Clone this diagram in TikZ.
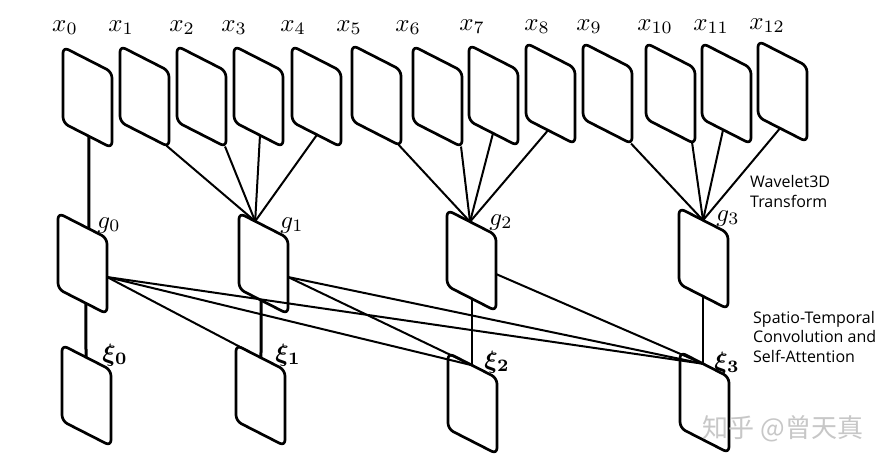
\documentclass[tikz,border=0pt]{standalone}
\usepackage{bm}
\usepackage{fontspec}
\newfontfamily\osans{Open Sans}
\newfontfamily\cjk{Noto Sans CJK SC}
\usetikzlibrary{calc}
\tikzset{
  frameline/.style={line width=2.7pt, rounded corners=6pt, line join=round},
  conn/.style={line width=2pt},
  connthick/.style={line width=3pt},
  connthin/.style={line width=1.7pt},
  mlabel/.style={anchor=base, inner sep=0pt, scale=2.5},
  note/.style={anchor=base west, inner sep=0pt, align=left, font=\osans\fontsize{16}{19.5}\selectfont},
  wm/.style={inner sep=0pt, text=black!22, font=\cjk\fontsize{26}{29}\selectfont},
  frm/.pic={
    \draw[frameline] (0,0) -- (49,25) -- (49,101) -- (0,76) -- cycle;
    \coordinate (-tl) at (0,0);
    \coordinate (-tr) at (49,25);
    \coordinate (-bl) at (0,76);
    \coordinate (-br) at (49,101);
    \coordinate (-r) at (49,64);
  }
}
\begin{document}
\begin{tikzpicture}[x=1pt,y=-1pt]
\fill[white] (0,0) rectangle (890,466);
\useasboundingbox (0,0) rectangle (890,466);

% top row frames
\pic (x0) at (63,47) {frm};
\pic (x1) at (120,46) {frm};
\pic (x2) at (177,46) {frm};
\pic (x3) at (234,46) {frm};
\pic (x4) at (292,46) {frm};
\pic (x5) at (352,45) {frm};
\pic (x6) at (413,46) {frm};
\pic (x7) at (469,45) {frm};
\pic (x8) at (526,43) {frm};
\pic (x9) at (583,43) {frm};
\pic (x10) at (646,43) {frm};
\pic (x11) at (702,43) {frm};
\pic (x12) at (758,41) {frm};

% middle row
\pic (g0) at (58,213) {frm};
\pic (g1) at (239,213) {frm};
\pic (g2) at (447,210) {frm};
\pic (g3) at (679,208) {frm};

% bottom row
\pic (xi0) at (62,345) {frm};
\pic (xi1) at (236,345) {frm};
\pic (xi2) at (448,353) {frm};
\pic (xi3) at (680,352) {frm};

% labels
\node[mlabel] (lx0) at (65,31) {$x_0$};
\node[mlabel] (lx1) at (121,31) {$x_1$};
\node[mlabel] (lx2) at (182,31) {$x_2$};
\node[mlabel] (lx3) at (234,31) {$x_3$};
\node[mlabel] (lx4) at (293,31) {$x_4$};
\node[mlabel] (lx5) at (349,31) {$x_5$};
\node[mlabel] (lx6) at (408,31) {$x_6$};
\node[mlabel] (lx7) at (472,30) {$x_7$};
\node[mlabel] (lx8) at (537,30) {$x_8$};
\node[mlabel] (lx9) at (589,30) {$x_9$};
\node[mlabel] (lx10) at (655,30) {$x_{10}$};
\node[mlabel] (lx11) at (711,30) {$x_{11}$};
\node[mlabel] (lx12) at (767,29) {$x_{12}$};

\node[mlabel] (lg0) at (109,228) {$g_0$};
\node[mlabel] (lg1) at (292,228) {$g_1$};
\node[mlabel] (lg2) at (501,225) {$g_2$};
\node[mlabel] (lg3) at (728,221) {$g_3$};

\node[mlabel] (lxi0) at (115,361) {$\bm{\xi}_{\bm{0}}$};
\node[mlabel] (lxi1) at (288,361) {$\bm{\xi}_{\bm{1}}$};
\node[mlabel] (lxi2) at (497,368) {$\bm{\xi}_{\bm{2}}$};
\node[mlabel] (lxi3) at (727,369) {$\bm{\xi}_{\bm{3}}$};

% junction points
\coordinate (g0t) at ($(g0-tl)!0.63!(g0-tr)$);
\coordinate (g1t) at ($(g1-tl)!0.33!(g1-tr)$);
\coordinate (g2t) at ($(g2-tl)!0.47!(g2-tr)$);
\coordinate (g3t) at ($(g3-tl)!0.49!(g3-tr)$);
\coordinate (xi0t) at ($(xi0-tl)!0.49!(xi0-tr)$);
\coordinate (xi1t) at ($(xi1-tl)!0.51!(xi1-tr)$);
\coordinate (xi1a) at ($(xi1-tl)!0.29!(xi1-tr)$);
\coordinate (xi2t) at ($(xi2-tl)!0.49!(xi2-tr)$);
\coordinate (xi3t) at ($(xi3-tl)!0.47!(xi3-tr)$);

% wavelet connections
\draw[connthick] ($(x0-bl)!0.53!(x0-br)$) -- (g0t);
\draw[conn] ($(x1-bl)!0.95!(x1-br)$) -- (g1t);
\draw[conn] ($(x2-bl)!0.98!(x2-br)$) -- (g1t);
\draw[conn] ($(x3-bl)!0.53!(x3-br)$) -- (g1t);
\draw[conn] ($(x4-bl)!0.51!(x4-br)$) -- (g1t);
\draw[conn] ($(x5-bl)!0.95!(x5-br)$) -- (g2t);
\draw[conn] ($(x6-bl)!0.98!(x6-br)$) -- (g2t);
\draw[conn] ($(x7-bl)!0.49!(x7-br)$) -- (g2t);
\draw[conn] ($(x8-bl)!0.45!(x8-br)$) -- (g2t);
\draw[conn] ($(x9-bl)!0.98!(x9-br)$) -- (g3t);
\draw[conn] ($(x10-bl)!0.94!(x10-br)$) -- (g3t);
\draw[conn] ($(x11-bl)!0.43!(x11-br)$) -- (g3t);
\draw[conn] ($(x12-bl)!0.45!(x12-br)$) -- (g3t);

% vertical connections
\draw[connthick] ($(g0-bl)!0.57!(g0-br)$) -- (xi0t);
\draw[connthick] ($(g1-bl)!0.45!(g1-br)$) -- (xi1t);
\draw[connthin] ($(g2-bl)!0.51!(g2-br)$) -- (xi2t);
\draw[connthin] ($(g3-bl)!0.49!(g3-br)$) -- (xi3t);

% attention connections
\draw[conn] (g0-r) -- (xi1a);
\draw[conn] (g0-r) -- (xi2t);
\draw[conn] (g0-r) -- (xi3t);
\draw[conn] (g1-r) -- (xi2t);
\draw[conn] (g1-r) -- (xi3t);
\draw[conn] (g2-r) -- (xi3t);

% annotations
\node[note] (wav) at (750,207) {Wavelet3D\\Transform};
\node[note] (stc) at (753,362) {Spatio-Temporal\\Convolution and\\Self-Attention};
\node[wm] (mark) at (783,429) {知乎 @曾天真};
\end{tikzpicture}
\end{document}
